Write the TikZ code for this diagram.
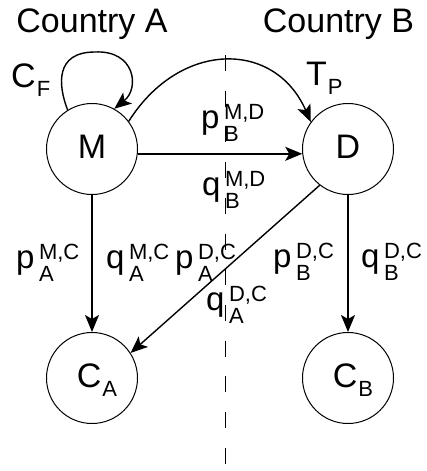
\documentclass[tikz,border=0pt]{standalone}
\usepackage{fontspec}
\setmainfont{Liberation Sans}
\usetikzlibrary{arrows.meta}

% letter with a lowered index
\newcommand\lsub[2]{#1\kern1pt\raisebox{-9pt}{\fontsize{22}{22}\selectfont #2}}
% letter with stacked superscript and subscript
\newcommand\lss[3]{#1\kern4.5pt{\fontsize{22}{22}\selectfont
  \setbox0=\hbox{\raisebox{9pt}{#2}}\setbox2=\hbox{\raisebox{-13pt}{#3}}%
  \ifdim\wd0>\wd2 \rlap{\box2}\box0\else\rlap{\box0}\box2\fi}}

\tikzset{
  agent/.style={circle, draw, line width=1pt, minimum size=91pt, inner sep=0pt,
                text height=19pt, text depth=0pt},
  edge/.style={line width=1.4pt, -{Stealth[length=17pt,width=14pt,inset=4pt]}},
  lab/.style={anchor=base west, inner sep=0pt},
  divider/.style={line width=1pt, dash pattern=on 16pt off 19.7pt},
}

\begin{document}
\begin{tikzpicture}[x=1pt, y=-1pt, font=\fontsize{34}{34}\selectfont]
\useasboundingbox (0,0) rectangle (427,471);

% border between the two countries
\coordinate (top) at (225.5,55);
\coordinate (bot) at (225.5,466);
\draw[divider] (top) -- (bot);

% country headings
\node[anchor=base, inner sep=0pt] (ctyA) at (92,32) {Country A};
\node[anchor=base, inner sep=0pt] (ctyB) at (338.5,32) {Country B};

% agents
\node[agent] (M)  at (92,149)  {M};
\node[agent] (D)  at (348,149) {D};
\node[agent] (CA) at (92,378)  {\hspace{10pt}\lsub{C}{A}};
\node[agent] (CB) at (348,378) {\hspace{10pt}\lsub{C}{B}};

% edges
\draw[edge] (M.-6) -- (D.186);
\draw[edge] (M) -- (CA);
\draw[edge] (D) -- (CB);
\draw[edge] (D.232) -- (CA.33);
\draw[edge] (M.37) .. controls (180,40) and (275,40) .. (D.144);
\draw[edge] (M.122) .. controls (58,85) and (55,52) .. (95,52)
                    .. controls (135,50) and (140,88) .. (M.61);

% cost and transfer price
\node[lab] (cf) at (11,87)  {\lsub{C}{F}};
\node[lab] (tp) at (306,85) {\lsub{T}{P}};

% prices and quantities
\begin{scope}[font=\fontsize{33}{33}\selectfont]
\node[lab] (pBMD) at (201,128) {\lss{p}{M,D}{B}};
\node[lab] (qBMD) at (202,195) {\lss{q}{M,D}{B}};
\node[lab] (pAMC) at (16,268)  {\lss{p}{M,C}{A}};
\node[lab] (qAMC) at (106,268) {\lss{q}{M,C}{A}};
\node[lab] (pADC) at (175,268) {\lss{p}{D,C}{A}};
\node[lab] (qADC) at (206,310) {\lss{q}{D,C}{A}};
\node[lab] (pBDC) at (273,267) {\lss{p}{D,C}{B}};
\node[lab] (qBDC) at (361,267) {\lss{q}{D,C}{B}};
\end{scope}
\end{tikzpicture}
\end{document}
